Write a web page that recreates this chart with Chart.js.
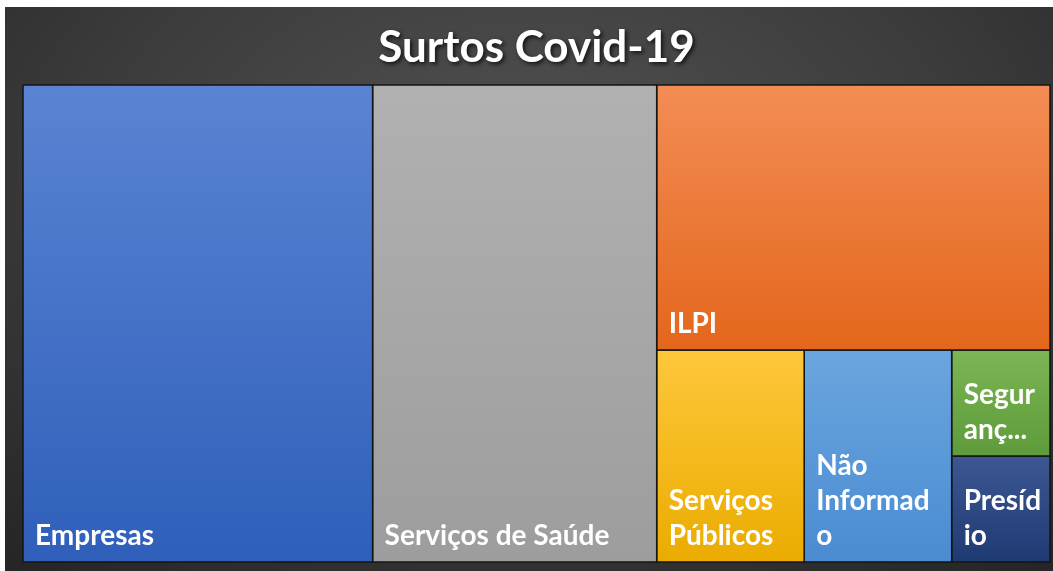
<!DOCTYPE html>
<html>
<head>
<meta charset="utf-8">
<script src="https://cdn.jsdelivr.net/npm/chart.js@4"></script>
<style>
  body { margin: 0; background: #fff; }
  #moldura {
    position: absolute; left: 5px; top: 7px; width: 1048px; height: 564px;
    background: radial-gradient(ellipse 75% 90% at 50% 30%, #525252 0%, #3c3c3c 55%, #262626 100%);
  }
</style>
</head>
<body>
<div id="moldura"><canvas id="surtos-grafica"></canvas></div>
<script>
// dados (proporção das áreas)
const categorias = ['Empresas', 'Serviços de Saúde', 'ILPI', 'Serviços Públicos', 'Não Informado', 'Segurança Pública', 'Presídio'];
const surtos = [16, 13, 10, 3, 3, 1, 1];

// cores: topo / base do degradê
const coresTopo = ['#5a84d3', '#b1b1b1', '#f38d55', '#fec73c', '#6aa6de', '#7cb554', '#3d5794'];
const coresBase = ['#2f5fba', '#9d9d9d', '#e4661c', '#eaac00', '#4a8bd2', '#5e9b3a', '#1f3a73'];

// espaço do layout (mesma proporção da área do gráfico)
const LARG = 1027, ALT = 477;

function pior(linha, lado) {
    const soma = linha.reduce((s, r) => s + r.a, 0);
    const max = Math.max(...linha.map(r => r.a));
    const min = Math.min(...linha.map(r => r.a));
    return Math.max(lado * lado * max / (soma * soma), (soma * soma) / (lado * lado * min));
}

function squarify(valores, x, y, w, h) {
    const total = valores.reduce((s, v) => s + v, 0);
    const escala = w * h / total;
    let resto = valores.map((v, i) => ({ i, a: v * escala }));
    const rects = [];
    while (resto.length) {
        const lado = Math.min(w, h);
        const linha = [resto[0]];
        let k = 1;
        while (k < resto.length && pior(linha.concat(resto[k]), lado) <= pior(linha, lado)) {
            linha.push(resto[k]);
            k++;
        }
        resto = resto.slice(k);
        const soma = linha.reduce((s, r) => s + r.a, 0);
        if (w >= h) {
            const cw = soma / h;
            let cy = y;
            linha.forEach(r => {
                const rh = r.a / cw;
                rects[r.i] = { x0: x, x1: x + cw, y0: cy, y1: cy + rh };
                cy += rh;
            });
            x += cw; w -= cw;
        } else {
            const rh = soma / w;
            let cx = x;
            linha.forEach(r => {
                const rw = r.a / rh;
                rects[r.i] = { x0: cx, x1: cx + rw, y0: y, y1: y + rh };
                cx += rw;
            });
            y += rh; h -= rh;
        }
    }
    return rects;
}

const celulas = squarify(surtos, 0, 0, LARG, ALT);

function quebrarTexto(ctx, texto, maxW) {
    const palavras = texto.split(' ');
    const linhas = [];
    let atual = '';
    palavras.forEach(p => {
        const teste = atual ? atual + ' ' + p : p;
        if (ctx.measureText(teste).width <= maxW) { atual = teste; return; }
        if (atual) linhas.push(atual);
        atual = '';
        if (ctx.measureText(p).width <= maxW) { atual = p; return; }
        let pedaco = '';
        for (const ch of p) {
            if (pedaco && ctx.measureText(pedaco + ch).width > maxW) {
                linhas.push(pedaco);
                pedaco = ch;
            } else {
                pedaco += ch;
            }
        }
        atual = pedaco;
    });
    if (atual) linhas.push(atual);
    return linhas;
}

const sombraTitulo = {
    id: 'sombraTitulo',
    beforeDraw(chart) {
        const ctx = chart.ctx;
        ctx.save();
        ctx.shadowColor = 'rgba(0,0,0,0.75)';
        ctx.shadowBlur = 4;
        ctx.shadowOffsetX = 2;
        ctx.shadowOffsetY = 2;
    },
    beforeDatasetsDraw(chart) {
        chart.ctx.restore();
    }
};

const rotulos = {
    id: 'rotulos',
    afterDatasetsDraw(chart) {
        const ctx = chart.ctx;
        const { x, y } = chart.scales;
        ctx.save();
        ctx.font = 'bold 28px Lato';
        ctx.fillStyle = '#ffffff';
        ctx.textBaseline = 'alphabetic';
        const alturaLinha = 35;
        celulas.forEach((c, i) => {
            const esq = x.getPixelForValue(c.x0);
            const dir = x.getPixelForValue(c.x1);
            const topo = y.getPixelForValue(c.y0);
            const base = y.getPixelForValue(c.y1);
            const maxW = dir - esq - 19;
            let linhas = quebrarTexto(ctx, categorias[i], maxW);
            const maxLinhas = Math.max(1, Math.floor((base - topo - 10) / alturaLinha));
            if (linhas.length > maxLinhas) {
                linhas = linhas.slice(0, maxLinhas);
                let ultima = linhas[maxLinhas - 1].slice(0, -1);
                while (ultima.length > 1 && ctx.measureText(ultima + '...').width > maxW) {
                    ultima = ultima.slice(0, -1);
                }
                linhas[maxLinhas - 1] = ultima + '...';
            }
            linhas.forEach((l, j) => {
                const yy = base - 17 - (linhas.length - 1 - j) * alturaLinha;
                ctx.fillText(l, esq + 12, yy);
            });
        });
        ctx.restore();
    }
};

const ctx = document.getElementById('surtos-grafica').getContext('2d');
const grafica = new Chart(ctx, {
    type: 'scatter',
    data: {
        datasets: celulas.map((c, i) => ({
            label: categorias[i],
            data: [
                { x: c.x0, y: c.y0 },
                { x: c.x1, y: c.y0 },
                { x: c.x1, y: c.y1 },
                { x: c.x0, y: c.y1 },
                { x: c.x0, y: c.y0 }
            ],
            showLine: true,
            fill: 'shape',
            clip: false,
            borderColor: '#141414',
            borderWidth: 1.5,
            pointRadius: 0,
            pointHoverRadius: 0,
            backgroundColor: (contexto) => {
                const chart = contexto.chart;
                const escalaY = chart.scales.y;
                if (!chart.chartArea || !escalaY) return coresTopo[i];
                const g = chart.ctx.createLinearGradient(0, escalaY.getPixelForValue(c.y0), 0, escalaY.getPixelForValue(c.y1));
                g.addColorStop(0, coresTopo[i]);
                g.addColorStop(1, coresBase[i]);
                return g;
            }
        }))
    },
    options: {
        responsive: true,
        maintainAspectRatio: false,
        animation: false,
        events: [],
        layout: {
            padding: { left: 18, right: 3, top: 0, bottom: 9 }
        },
        scales: {
            x: { type: 'linear', display: false, min: 0, max: LARG },
            y: { type: 'linear', display: false, min: 0, max: ALT, reverse: true }
        },
        plugins: {
            legend: { display: false },
            tooltip: { enabled: false },
            title: {
                display: true,
                text: 'Surtos Covid-19',
                color: '#ffffff',
                font: { family: 'Lato', size: 44, weight: 'bold', lineHeight: 1.1 },
                padding: { top: 17, bottom: 12.6 }
            }
        }
    },
    plugins: [sombraTitulo, rotulos]
});
</script>
</body>
</html>
